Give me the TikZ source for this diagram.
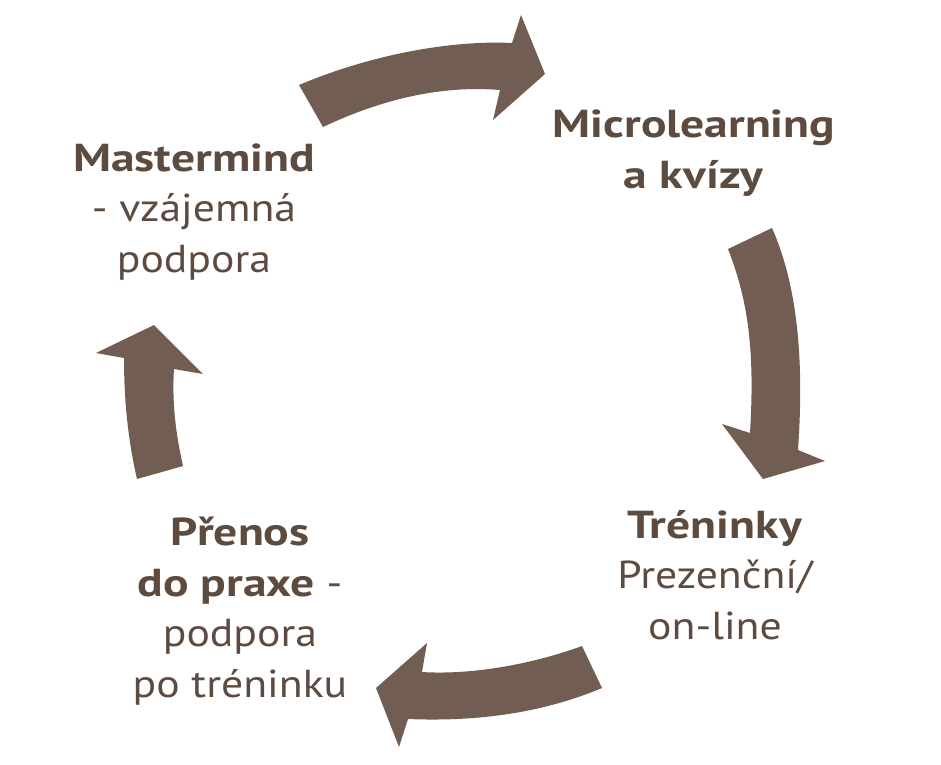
\documentclass[tikz,border=0pt]{standalone}
\usepackage{fontspec}
\setmainfont{PT Sans}[FakeStretch=1.12, BoldFeatures={FakeStretch=1.22}]
\usepackage{xcolor}
\usepackage{tikz}
\definecolor{arrowbrown}{HTML}{715D51}
\definecolor{textbrown}{HTML}{5E4B3F}

\begin{document}
\begin{tikzpicture}[x=1pt,y=-1pt,
  cyclearrow/.style={fill=arrowbrown, draw=none},
  steplabel/.style={align=center, inner sep=0pt, text=textbrown, font=\fontsize{39}{50.5}\selectfont}]
\useasboundingbox (0,0) rectangle (941,764);
\fill[cyclearrow] (299,85) .. controls (370,55) and (450,40) .. (512,43) -- (521,15) -- (545,74) -- (493,120) -- (500,90) .. controls (440,85) and (380,100) .. (323,127) -- cycle;
\fill[cyclearrow] (772,228) .. controls (795,280) and (805,350) .. (798,450) -- (825,461) -- (763,479) -- (722,424) -- (750,433) .. controls (755,350) and (748,300) .. (728,249) -- cycle;
\fill[cyclearrow] (582,646) .. controls (530,665) and (470,675) .. (422,672) -- (427,643) -- (376,688) -- (399,747) -- (408,719) .. controls (480,722) and (545,712) .. (602,688) -- cycle;
\fill[cyclearrow] (183,466) .. controls (175,430) and (172,400) .. (174,369) -- (203,374) -- (154,325) -- (96,353) -- (124,358) .. controls (124,400) and (128,440) .. (137,479) -- cycle;
\node[steplabel] (Mastermind) at (194,212) {\textbf{Mastermind}\\- vzájemná\\podpora};
\node[steplabel] (Micro) at (694,153) {\textbf{Microlearning}\\\textbf{a kvízy}};
\node[steplabel] (Trenink) at (715,575) {\textbf{Tréninky}\\Prezenční/\\on-line};
\node[steplabel] (Prenos) at (240,611) {\textbf{Přenos}\\\textbf{do praxe} -\\podpora\\po tréninku};
\end{tikzpicture}
\end{document}
